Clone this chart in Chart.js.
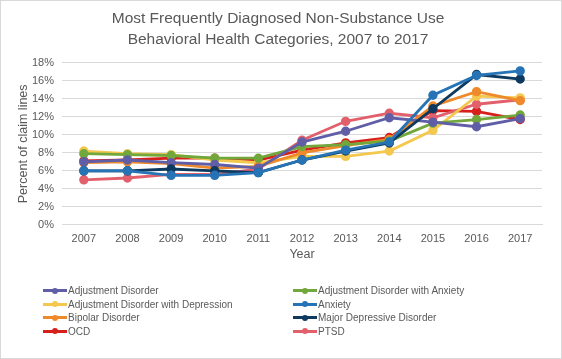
<!DOCTYPE html>
<html><head><meta charset="utf-8">
<script src="https://cdn.jsdelivr.net/npm/chart.js@4/dist/chart.umd.min.js"></script>
<style>
html,body{margin:0;padding:0;background:#fff;}
#wrap{position:relative;width:562px;height:359px;}
#legend{position:absolute;left:0;top:284px;width:562px;font-family:"Liberation Sans",Arial,sans-serif;font-size:10px;color:#595959;}
.item{position:absolute;display:flex;align-items:center;white-space:nowrap;height:13px;}
.sw{position:relative;width:24px;height:13px;margin-right:1px;}
.sw .ln{position:absolute;left:0;top:5px;width:24px;height:3px;}
.sw .dt{position:absolute;left:9px;top:3.5px;width:6px;height:6px;border-radius:50%;}
</style></head>
<body><div id="wrap"><canvas id="c" width="562" height="359"></canvas><div id="legend"></div></div>
<script>
const years = ["2007","2008","2009","2010","2011","2012","2013","2014","2015","2016","2017"];
const seriesNames = ["Adjustment Disorder","Adjustment Disorder with Anxiety","Adjustment Disorder with Depression","Anxiety","Bipolar Disorder","Major Depressive Disorder","OCD","PTSD"];
const adjustmentDisorder     = [7.0, 7.2, 6.9, 6.7, 6.3, 9.2, 10.4, 11.9, 11.4, 10.9, 11.8];
const adjWithAnxiety         = [7.9, 7.8, 7.7, 7.4, 7.4, 8.7, 8.9, 9.3, 11.3, 11.7, 12.2];
const adjWithDepression      = [8.2, 7.9, 7.8, 7.2, 6.9, 7.6, 7.6, 8.2, 10.5, 14.3, 14.1];
const anxiety                = [6.0, 6.0, 5.5, 5.5, 5.8, 7.2, 8.3, 9.2, 14.4, 16.6, 17.1];
const bipolarDisorder        = [6.9, 7.0, 6.8, 6.3, 6.5, 8.0, 8.8, 9.5, 13.2, 14.8, 13.8];
const majorDepressive        = [6.0, 6.0, 6.2, 6.0, 5.8, 7.2, 8.2, 9.1, 12.9, 16.7, 16.2];
const ocd                    = [7.1, 7.2, 7.4, 7.4, 7.2, 8.3, 9.1, 9.7, 12.7, 12.6, 11.7];
const ptsd                   = [5.0, 5.2, 5.6, 5.6, 6.2, 9.4, 11.5, 12.4, 11.9, 13.4, 13.9];
const yTicks = [0,2,4,6,8,10,12,14,16,18];

const colors = ["#5F5EA6","#72A83B","#F4C84F","#2673B5","#EE8A2C","#0D3A5E","#D6201C","#E2606C"];
const values = [adjustmentDisorder, adjWithAnxiety, adjWithDepression, anxiety, bipolarDisorder, majorDepressive, ocd, ptsd];
const order = [3,5,0,1,4,2,7,6];

const datasets = seriesNames.map((n,i)=>({
  label:n, data:values[i], borderColor:colors[i], backgroundColor:colors[i],
  pointBackgroundColor:colors[i], pointBorderColor:colors[i],
  borderWidth:2.8, pointRadius:3.3, pointHoverRadius:3.3, tension:0,
  order: order.indexOf(i)
}));

const border = {id:'border', afterDraw(ch){const c=ch.ctx;c.save();c.strokeStyle='#d9d9d9';c.lineWidth=1;c.strokeRect(0.5,0.5,561,358);c.restore();}};
const font = "'Liberation Sans', Arial, sans-serif";
Chart.defaults.font.family = font;
Chart.defaults.color = '#595959';

new Chart(document.getElementById('c'), {
  type:'line',
  data:{labels:years, datasets},
  options:{
    responsive:false, animation:false,
    layout:{padding:{top:4,left:14,right:20,bottom:97}},
    plugins:{
      legend:{display:false},
      tooltip:{enabled:false},
      title:{display:true, text:["Most Frequently Diagnosed Non-Substance Use","Behavioral Health Categories, 2007 to 2017"], font:{size:15.5, weight:'normal', family:font, lineHeight:1.35}, color:'#595959', padding:{top:4,bottom:13}}
    },
    scales:{
      x:{offset:true, grid:{display:false, drawTicks:false}, border:{display:true,color:'#d9d9d9'},
         ticks:{font:{size:11}, color:'#595959', padding:8},
         title:{display:true, text:'Year', font:{size:12.5}, color:'#595959', padding:{top:-7,bottom:0}}},
      y:{min:0, max:18, afterBuildTicks(ax){ax.ticks=yTicks.map(v=>({value:v}));},
         grid:{color:'#d9d9d9', drawTicks:false}, border:{display:false},
         ticks:{font:{size:11}, color:'#595959', padding:8, callback:v=>v+'%'},
         title:{display:true, text:'Percent of claim lines', font:{size:12.5}, color:'#595959', padding:{top:2,bottom:-7}}}
    }
  },
  plugins:[border]
});

const lg = document.getElementById('legend');
seriesNames.forEach((n,i)=>{
  const col = i%2, row = Math.floor(i/2);
  const d = document.createElement('div'); d.className='item';
  d.style.left = (col===0?43:293)+'px'; d.style.top = (row*13.5)+'px';
  d.innerHTML = '<span class="sw"><span class="ln" style="background:'+colors[i]+'"></span><span class="dt" style="background:'+colors[i]+'"></span></span><span></span>';
  d.lastChild.textContent = n;
  lg.appendChild(d);
});
</script></body></html>
